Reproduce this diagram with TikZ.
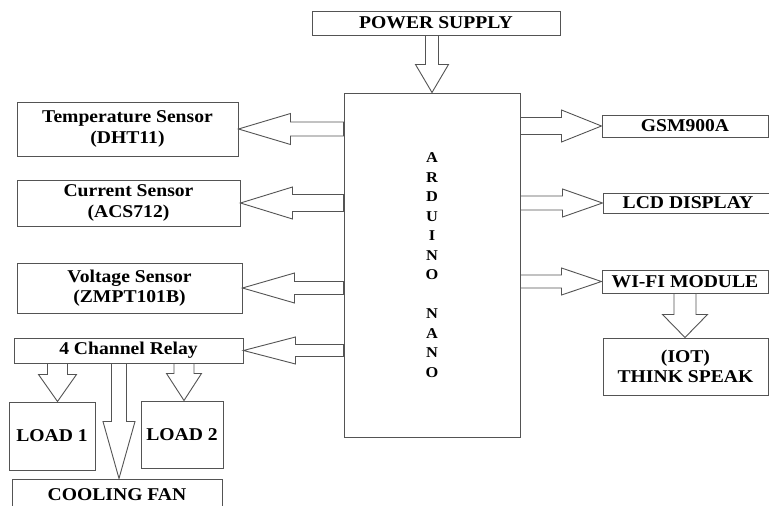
\documentclass[tikz,border=0pt]{standalone}
\usepackage{fontspec}
\setmainfont{Liberation Serif}[FakeStretch=1.09]
\usetikzlibrary{calc}
\definecolor{linegray}{gray}{0.33}

% hollow block arrow: tail, tip, shaft half width, head half width, head length, side vector
\newcommand{\blockarrow}[6]{%
\draw[blk] ($(#1)+#3*#6$) -- ($(#2)!#5!(#1)+#3*#6$) -- ($(#2)!#5!(#1)+#4*#6$) -- (#2)
	-- ($(#2)!#5!(#1)-#4*#6$) -- ($(#2)!#5!(#1)-#3*#6$) -- ($(#1)-#3*#6$) -- cycle;}

\begin{document}
\begin{tikzpicture}[x=1pt, y=-1pt,
	box/.style={draw=linegray, line width=1pt, inner sep=0pt, align=center,
		font=\fontsize{18}{20.5}\selectfont\bfseries},
	blk/.style={draw=linegray, line width=0.9pt, fill=white, line join=miter}]
\clip (0,0) rectangle (769,506);
\useasboundingbox (0,0) rectangle (769,506);
\fill[white] (0,0) rectangle (769,506);

\node (power) at (436,23) [box, minimum width=248, minimum height=24] {POWER SUPPLY};
\node (nano) at (432,265) [box, minimum width=176, minimum height=344,
	font=\fontsize{15}{19.5}\selectfont\bfseries]
	{A\\R\\D\\U\\I\\N\\O\\[19.5pt]N\\A\\N\\O};

\node (temp) at (127.5,129) [box, minimum width=221, minimum height=54] {Temperature Sensor\\(DHT11)};
\node (current) at (128.5,203) [box, minimum width=223, minimum height=46] {Current Sensor\\(ACS712)};
\node (voltage) at (129.5,288) [box, minimum width=225, minimum height=50] {Voltage Sensor\\(ZMPT101B)};
\node (relay) at (128.5,350.5) [box, minimum width=229, minimum height=25] {4 Channel Relay};
\node (load1) at (52,436) [box, minimum width=86, minimum height=68] {LOAD 1};
\node (load2) at (182,434.5) [box, minimum width=82, minimum height=67] {LOAD 2};
\node (fan) at (117,495) [box, minimum width=210, minimum height=32] {COOLING FAN};

\node (gsm) at (685,126) [box, minimum width=166, minimum height=22] {GSM900A};
\node (lcd) at (688,203) [box, minimum width=170, minimum height=20] {LCD DISPLAY};
\node (wifi) at (685,281.5) [box, minimum width=166, minimum height=23] {WI-FI MODULE};
\node (iot) at (685.5,366.5) [box, minimum width=165, minimum height=57] {(IOT)\\THINK SPEAK};

% power in
\coordinate (power-tail) at (nano.north |- power.south);
\blockarrow{power-tail}{nano.north}{6.5}{16.5}{28pt}{(1,0)}

% sensors and relay on the left
\foreach \s/\w/\h in {temp/7/15.5, current/8.5/16, voltage/6.5/15, relay/6/13.5}
{
	\coordinate (\s-tail) at (nano.west |- \s.east);
	\blockarrow{\s-tail}{\s.east}{\w}{\h}{52pt}{(0,1)}
}

% outputs on the right
\foreach \s/\w/\h in {gsm/8.5/16, lcd/7/14, wifi/6.5/13.5}
{
	\coordinate (\s-tail) at (nano.east |- \s.west);
	\blockarrow{\s-tail}{\s.west}{\w}{\h}{40pt}{(0,1)}
}

% wifi to cloud
\coordinate (iot-tip) at (wifi.south |- iot.north);
\blockarrow{wifi.south}{iot-tip}{11}{22.5}{23pt}{(1,0)}

% relay to loads and fan
\coordinate (l1-tip) at ([xshift=5.5pt]load1.north);
\coordinate (l2-tip) at ([xshift=2pt]load2.north);
\coordinate (fan-tip) at ([xshift=2pt]fan.north);
\coordinate (l1-tail) at (relay.south -| l1-tip);
\coordinate (l2-tail) at (relay.south -| l2-tip);
\coordinate (fan-tail) at (relay.south -| fan-tip);
\blockarrow{l1-tail}{l1-tip}{10}{19}{27pt}{(1,0)}
\blockarrow{l2-tail}{l2-tip}{10}{17.5}{27pt}{(1,0)}
\blockarrow{fan-tail}{fan-tip}{7.5}{16}{57pt}{(1,0)}
\end{tikzpicture}
\end{document}
